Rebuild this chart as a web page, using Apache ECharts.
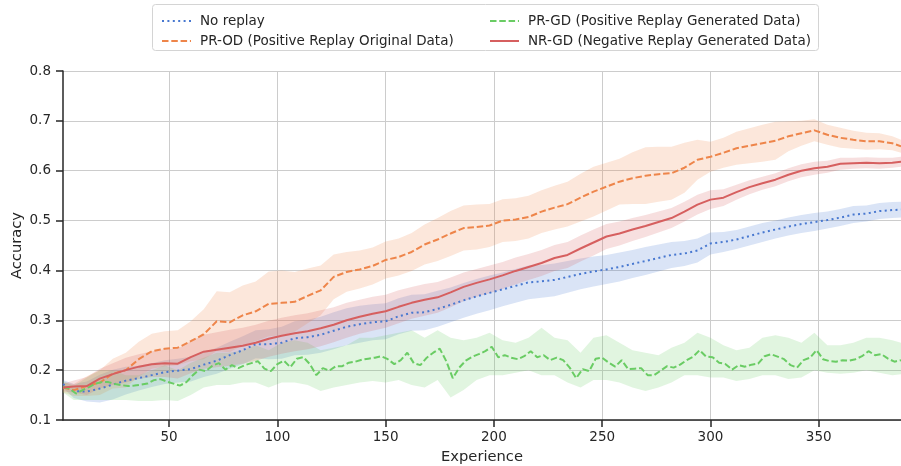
<!DOCTYPE html>
<html>
<head>
<meta charset="utf-8">
<title>Accuracy vs Experience</title>
<script src="https://cdn.jsdelivr.net/npm/echarts@6/dist/echarts.min.js"></script>
<style>
  html, body { margin: 0; padding: 0; background: #ffffff; }
  #chart { width: 901px; height: 466px; }
</style>
</head>
<body>
<div id="chart"></div>
<script>
// Experience steps at which the smooth curves and their bands are sampled
const expX = [1,6,12,18,24,30,36,42,48,54,60,66,72,78,84,90,96,102,108,114,120,126,132,138,144,150,156,162,168,174,180,186,192,198,204,210,216,222,228,234,240,246,252,258,264,270,276,282,288,294,300,306,312,318,324,330,336,342,348,354,360,366,372,378,384,388];

// No replay: mean accuracy and confidence half-width
const noReplay = [0.172,0.158,0.157,0.163,0.171,0.179,0.184,0.190,0.196,0.199,0.202,0.211,0.219,0.230,0.240,0.252,0.252,0.255,0.264,0.266,0.271,0.279,0.287,0.292,0.296,0.298,0.308,0.315,0.316,0.323,0.331,0.340,0.348,0.355,0.362,0.369,0.376,0.378,0.381,0.387,0.393,0.398,0.402,0.407,0.413,0.419,0.425,0.431,0.434,0.440,0.454,0.457,0.462,0.469,0.476,0.482,0.488,0.493,0.497,0.501,0.506,0.512,0.514,0.519,0.521,0.522];
const noReplayCi = [0.008,0.014,0.02,0.028,0.03,0.028,0.025,0.024,0.024,0.024,0.025,0.025,0.026,0.027,0.028,0.028,0.03,0.032,0.034,0.035,0.036,0.037,0.037,0.037,0.036,0.036,0.036,0.036,0.036,0.036,0.035,0.035,0.035,0.035,0.034,0.034,0.034,0.033,0.033,0.032,0.031,0.03,0.029,0.029,0.028,0.028,0.027,0.026,0.025,0.024,0.022,0.02,0.019,0.019,0.019,0.018,0.018,0.018,0.018,0.017,0.017,0.017,0.016,0.016,0.016,0.016];

// PR-OD: positive replay with original data
const prOD = [0.165,0.160,0.168,0.175,0.193,0.200,0.222,0.238,0.243,0.245,0.258,0.272,0.298,0.296,0.310,0.318,0.333,0.335,0.337,0.349,0.360,0.387,0.397,0.402,0.409,0.421,0.427,0.437,0.452,0.462,0.474,0.485,0.487,0.490,0.500,0.502,0.507,0.518,0.526,0.533,0.546,0.558,0.568,0.578,0.585,0.590,0.593,0.595,0.606,0.622,0.628,0.636,0.645,0.650,0.655,0.660,0.669,0.675,0.681,0.672,0.666,0.662,0.659,0.659,0.655,0.649];
const prODCi = [0.01,0.012,0.02,0.025,0.03,0.035,0.035,0.035,0.035,0.035,0.04,0.05,0.06,0.06,0.06,0.06,0.065,0.065,0.06,0.055,0.05,0.045,0.04,0.038,0.037,0.037,0.037,0.038,0.04,0.043,0.045,0.045,0.045,0.043,0.043,0.043,0.043,0.043,0.044,0.045,0.048,0.05,0.048,0.046,0.052,0.057,0.055,0.053,0.05,0.04,0.03,0.03,0.033,0.035,0.037,0.038,0.03,0.025,0.022,0.02,0.02,0.018,0.017,0.016,0.014,0.013];

// NR-GD: negative replay with generated data
const nrGD = [0.165,0.167,0.168,0.183,0.192,0.200,0.207,0.212,0.214,0.213,0.226,0.237,0.241,0.245,0.249,0.255,0.263,0.269,0.274,0.278,0.284,0.291,0.300,0.307,0.313,0.318,0.327,0.335,0.341,0.346,0.356,0.367,0.375,0.382,0.390,0.399,0.407,0.415,0.425,0.431,0.444,0.456,0.468,0.474,0.482,0.489,0.497,0.505,0.518,0.532,0.542,0.546,0.557,0.567,0.575,0.582,0.592,0.600,0.605,0.608,0.614,0.615,0.616,0.615,0.616,0.618];
const nrGDCi = [0.008,0.012,0.018,0.02,0.022,0.025,0.025,0.026,0.028,0.03,0.032,0.034,0.035,0.036,0.036,0.036,0.036,0.036,0.036,0.036,0.036,0.035,0.035,0.034,0.034,0.033,0.033,0.032,0.032,0.031,0.03,0.029,0.028,0.028,0.027,0.027,0.026,0.026,0.026,0.026,0.026,0.026,0.025,0.024,0.023,0.022,0.021,0.02,0.02,0.02,0.019,0.017,0.015,0.014,0.013,0.013,0.013,0.013,0.013,0.012,0.012,0.011,0.011,0.011,0.01,0.01];

// PR-GD: positive replay with generated data (noisier, sampled more densely)
const gdX = [1,4,7,10,13,16,19,22,25,28,31,34,37,40,43,46,49,52,55,58,61,64,67,70,73,76,79,82,85,88,91,94,97,100,103,106,109,112,115,118,121,124,127,130,133,136,139,142,145,148,151,154,157,160,163,166,169,172,175,178,181,184,187,190,193,196,199,202,205,208,211,214,217,220,223,226,229,232,235,238,241,244,247,250,253,256,259,262,265,268,271,274,277,280,283,286,289,292,295,298,301,304,307,310,313,316,319,322,325,328,331,334,337,340,343,346,349,352,355,358,361,364,367,370,373,376,379,382,385,388];
const prGD = [0.166,0.163,0.153,0.160,0.166,0.173,0.176,0.176,0.172,0.170,0.168,0.169,0.171,0.173,0.180,0.182,0.177,0.173,0.169,0.176,0.190,0.201,0.198,0.209,0.214,0.201,0.210,0.204,0.210,0.214,0.218,0.203,0.198,0.212,0.219,0.206,0.223,0.226,0.212,0.190,0.204,0.199,0.208,0.208,0.215,0.217,0.221,0.223,0.225,0.228,0.222,0.212,0.220,0.235,0.214,0.210,0.225,0.235,0.243,0.218,0.184,0.205,0.219,0.227,0.232,0.238,0.247,0.226,0.230,0.225,0.222,0.228,0.238,0.226,0.230,0.220,0.225,0.220,0.205,0.184,0.202,0.198,0.223,0.225,0.215,0.207,0.220,0.202,0.203,0.204,0.190,0.190,0.199,0.208,0.205,0.211,0.220,0.227,0.240,0.227,0.226,0.215,0.212,0.201,0.210,0.207,0.211,0.213,0.228,0.232,0.227,0.222,0.210,0.205,0.220,0.225,0.240,0.222,0.218,0.217,0.220,0.219,0.222,0.228,0.238,0.230,0.232,0.223,0.217,0.220];
const prGDLow = [0.155,0.14,0.14,0.14,0.14,0.14,0.138,0.138,0.14,0.138,0.15,0.165,0.17,0.17,0.175,0.175,0.165,0.175,0.175,0.17,0.158,0.165,0.17,0.175,0.178,0.175,0.18,0.17,0.165,0.18,0.145,0.16,0.18,0.19,0.19,0.195,0.2,0.19,0.19,0.175,0.165,0.18,0.18,0.175,0.165,0.158,0.165,0.175,0.19,0.19,0.185,0.185,0.178,0.182,0.19,0.19,0.182,0.185,0.2,0.195,0.193,0.195,0.2,0.195,0.19,0.192];
const prGDHigh = [0.178,0.168,0.185,0.2,0.2,0.19,0.19,0.2,0.21,0.2,0.215,0.225,0.235,0.235,0.24,0.25,0.24,0.255,0.26,0.255,0.24,0.245,0.25,0.265,0.265,0.27,0.275,0.28,0.265,0.28,0.265,0.26,0.265,0.275,0.26,0.255,0.265,0.285,0.265,0.26,0.235,0.265,0.27,0.255,0.24,0.235,0.23,0.245,0.255,0.275,0.265,0.25,0.24,0.245,0.265,0.27,0.265,0.255,0.275,0.25,0.25,0.255,0.265,0.265,0.26,0.255];

// Axis ticks
const xTicks = [50, 100, 150, 200, 250, 300, 350];

const NAMES = {
  none: 'No replay',
  od: 'PR-OD (Positive Replay Original Data)',
  gd: 'PR-GD (Positive Replay Generated Data)',
  nr: 'NR-GD (Negative Replay Generated Data)'
};
const COLORS = { none: '#4878d0', od: '#ee854a', gd: '#6acc64', nr: '#d65f5f' };
const FONT = 'DejaVu Sans';
const INK = '#262626';
const LW = 2;

const pairs = (xs, ys) => xs.map((x, i) => [x, ys[i]]);

// Shaded confidence band drawn as one polygon through the axis scales
function bandSeries(xs, lo, hi, color) {
  const pts = xs.map((x, i) => [x, lo[i], hi[i]]);
  return {
    type: 'custom',
    silent: true,
    z: 1,
    data: pts,
    encode: { x: 0, y: [1, 2] },
    renderItem(params, api) {
      if (params.dataIndex !== 0) return null;
      const upper = pts.map(p => api.coord([p[0], p[2]]));
      const lower = pts.map(p => api.coord([p[0], p[1]])).reverse();
      return {
        type: 'polygon',
        shape: { points: upper.concat(lower) },
        style: { fill: echarts.color.modifyAlpha(color, 0.2), stroke: 'none' }
      };
    }
  };
}

function lineSeries(name, xs, ys, color, dash) {
  return {
    type: 'line',
    name,
    data: pairs(xs, ys),
    symbol: 'none',
    z: 3,
    itemStyle: { color },
    lineStyle: { color, width: LW, type: dash, cap: 'butt' },
    emphasis: { disabled: true }
  };
}

const withCi = (m, c, sign) => m.map((v, i) => v + sign * c[i]);

const legendCommon = {
  orient: 'vertical',
  top: 9,
  itemWidth: 29,
  itemHeight: 14,
  itemGap: 6,
  selectedMode: false,
  itemStyle: { opacity: 0 },
  lineStyle: { width: LW },
  textStyle: { color: INK, fontSize: 13.5, fontFamily: FONT, padding: [0, 0, 0, 4] }
};

const option = {
  animation: false,
  backgroundColor: '#ffffff',
  grid: { left: 63, right: 0, top: 71, bottom: 46, containLabel: false, outerBoundsMode: 'none' },
  graphic: [{
    type: 'rect',
    z: 0,
    shape: { x: 152.5, y: 4.5, width: 666, height: 46, r: 3 },
    style: { fill: '#ffffff', stroke: '#d4d4d4', lineWidth: 1 }
  }],
  legend: [
    Object.assign({ left: 156, data: [NAMES.none, NAMES.od] }, legendCommon),
    Object.assign({ left: 484, data: [NAMES.gd, NAMES.nr] }, legendCommon)
  ],
  xAxis: {
    type: 'value',
    min: 1,
    max: 388,
    name: 'Experience',
    nameLocation: 'middle',
    nameGap: 30,
    nameMoveOverlap: false,
    nameTextStyle: { color: INK, fontSize: 14.7, fontFamily: FONT },
    axisLine: { show: true, lineStyle: { color: INK, width: 1.5 } },
    axisTick: { show: true, length: 7, lineStyle: { color: INK, width: 1.5 }, customValues: xTicks },
    axisLabel: { color: INK, fontSize: 13.5, fontFamily: FONT, margin: 10, customValues: xTicks },
    splitLine: { show: true, lineStyle: { color: '#cccccc', width: 1 } }
  },
  yAxis: {
    type: 'value',
    min: 0.1,
    max: 0.8,
    interval: 0.1,
    name: 'Accuracy',
    nameLocation: 'middle',
    nameGap: 38,
    nameMoveOverlap: false,
    nameTextStyle: { color: INK, fontSize: 14.7, fontFamily: FONT },
    axisLine: { show: true, lineStyle: { color: INK, width: 1.5 } },
    axisTick: { show: true, length: 7, lineStyle: { color: INK, width: 1.5 } },
    axisLabel: { color: INK, fontSize: 13.5, fontFamily: FONT, margin: 12, formatter: v => v.toFixed(1) },
    splitLine: { show: true, lineStyle: { color: '#cccccc', width: 1 } }
  },
  series: [
    bandSeries(expX, withCi(noReplay, noReplayCi, -1), withCi(noReplay, noReplayCi, 1), COLORS.none),
    bandSeries(expX, withCi(prOD, prODCi, -1), withCi(prOD, prODCi, 1), COLORS.od),
    bandSeries(expX, prGDLow, prGDHigh, COLORS.gd),
    bandSeries(expX, withCi(nrGD, nrGDCi, -1), withCi(nrGD, nrGDCi, 1), COLORS.nr),
    lineSeries(NAMES.none, expX, noReplay, COLORS.none, [2, 3.4]),
    lineSeries(NAMES.od, expX, prOD, COLORS.od, [6.5, 2.8]),
    lineSeries(NAMES.gd, gdX, prGD, COLORS.gd, [6.5, 2.8]),
    lineSeries(NAMES.nr, expX, nrGD, COLORS.nr, 'solid')
  ]
};

const chart = echarts.init(document.getElementById('chart'));
chart.setOption(option);
</script>
</body>
</html>
